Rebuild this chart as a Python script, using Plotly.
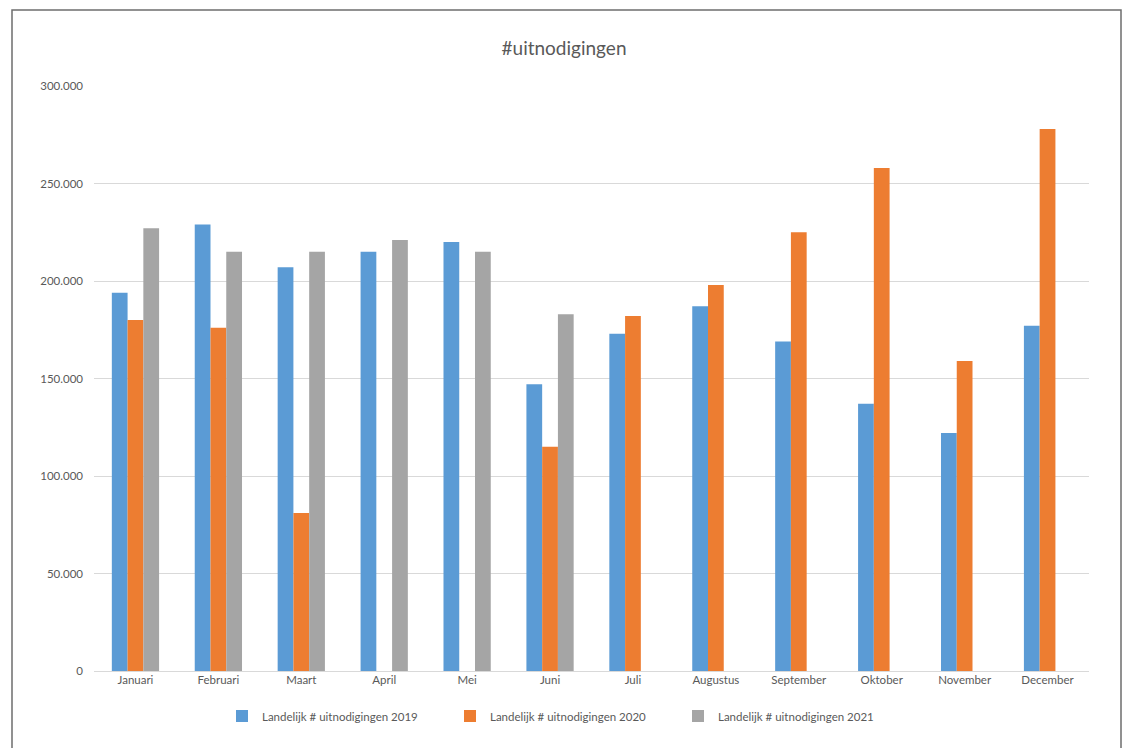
import plotly.graph_objects as go

# Monthly number of invitations, three years side by side
maanden = ["Januari", "Februari", "Maart", "April", "Mei", "Juni", "Juli",
           "Augustus", "September", "Oktober", "November", "December"]

uitn_2019 = [194000, 229000, 207000, 215000, 220000, 147000, 173000,
             187000, 169000, 137000, 122000, 177000]
uitn_2020 = [180000, 176000, 81000, None, None, 115000, 182000,
             198000, 225000, 258000, 159000, 278000]
uitn_2021 = [227000, 215000, 215000, 221000, 215000, 183000, None,
             None, None, None, None, None]

reeks_namen = ["Landelijk # uitnodigingen 2019",
               "Landelijk # uitnodigingen 2020",
               "Landelijk # uitnodigingen 2021"]
kleuren = ["#5B9BD5", "#ED7D31", "#A5A5A5"]

y_ticks = [0, 50000, 100000, 150000, 200000, 250000, 300000]
y_ticklabels = ["0", "50.000", "100.000", "150.000", "200.000", "250.000", "300.000"]

FONT = "Lato, 'Open Sans', sans-serif"
TXT = "#595959"

fig = go.Figure()
for naam, waarden, kleur in zip(reeks_namen, [uitn_2019, uitn_2020, uitn_2021], kleuren):
    fig.add_trace(go.Bar(x=maanden, y=waarden, name=naam,
                         marker=dict(color=kleur, line=dict(width=0))))

W, H = 1125, 748
L, R, T, B = 94, 36, 86, 77
pw, ph = W - L - R, H - T - B


def px_x(p):
    return (p - L) / pw


def px_y(p):
    return (H - B - p) / ph


fig.update_layout(
    width=W, height=H,
    margin=dict(l=L, r=R, t=T, b=B, autoexpand=False),
    paper_bgcolor="white", plot_bgcolor="white",
    barmode="group", bargap=0.43, bargroupgap=0,
    font=dict(family=FONT, color=TXT, size=11.5),
    title=dict(text="#uitnodigingen", xref="container", x=564 / W,
               xanchor="center", y=1 - 48 / H, yanchor="middle",
               font=dict(family=FONT, size=19, color=TXT)),
    xaxis=dict(showgrid=False, showline=False, ticks="", zeroline=False,
               tickfont=dict(size=11.5, color=TXT)),
    yaxis=dict(range=[0, 300000], tickvals=y_ticks, ticktext=y_ticklabels,
               showgrid=True, gridcolor="#D9D9D9", gridwidth=1,
               zeroline=True, zerolinecolor="#D9D9D9", zerolinewidth=1,
               showline=False, ticks="", ticklabelstandoff=10,
               tickfont=dict(size=11.5, color=TXT)),
    legend=dict(orientation="h", x=px_x(222), xanchor="left",
                y=px_y(716), yanchor="middle",
                font=dict(size=11.5, color=TXT),
                itemwidth=30, entrywidth=183, entrywidthmode="pixels",
                tracegroupgap=0, bgcolor="rgba(0,0,0,0)"),
    shapes=[dict(type="rect", xref="paper", yref="paper",
                 x0=px_x(12), x1=px_x(1121), y0=px_y(760), y1=px_y(10),
                 line=dict(color="#6E6E6E", width=1.5),
                 fillcolor="rgba(0,0,0,0)", layer="above")],
)

fig.write_html("out.html")
